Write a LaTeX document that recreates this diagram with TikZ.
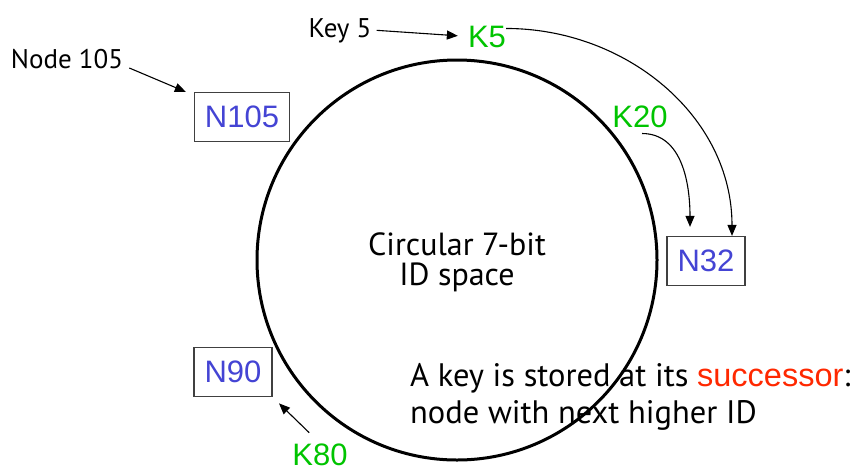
\documentclass[tikz,border=0pt]{standalone}
\usepackage{fontspec}
\setmainfont{PT Sans}
\newfontfamily\arialfont{Liberation Sans}
\usepackage{tikz}
\usetikzlibrary{arrows.meta, positioning}
\definecolor{nodeblue}{RGB}{68,68,212}
\definecolor{keygreen}{RGB}{0,196,0}
\definecolor{succred}{RGB}{255,40,0}
\tikzset{
  idbox/.style={draw=black!75, line width=1.2pt, fill=white,
                inner xsep=10.5pt, inner ysep=0pt, minimum height=49pt,
                font=\arialfont\fontsize{31}{31}\selectfont, text=nodeblue},
  keylbl/.style={inner sep=0pt, font=\arialfont\fontsize{31}{31}\selectfont,
                 text=keygreen},
  note/.style={inner sep=0pt, font=\fontsize{27}{27}\selectfont},
  ptr/.style={-{Triangle[length=11pt,width=9pt]}, line width=1.1pt},
}
\begin{document}
\begin{tikzpicture}[x=1pt, y=-1pt]
    \useasboundingbox[fill=white] (0,0) rectangle (856,472);
    % the identifier ring
    \node[circle, draw, line width=3pt, minimum size=400pt, inner sep=0pt]
          (ring) at (457,260) {};
    \node[inner sep=0pt, align=center, anchor=base,
          font=\fontsize{32}{30}\selectfont] (space) at (457,285)
          {Circular 7-bit\\ID space};
    % nodes on the ring
    \node[idbox] (n105) at (242,117) {N105};
    \node[idbox] (n32) at (706,261) {N32};
    \node[idbox] (n90) at (233,372) {N90};
    % keys
    \node[keylbl, anchor=base] (k5) at (487,47) {K5};
    \node[keylbl, anchor=base] (k20) at (640,127) {K20};
    \node[keylbl, anchor=base] (k80) at (320,465) {K80};
    % captions
    \node[note, anchor=base] (node105) at (67,68) {Node 105};
    \node[note, anchor=base] (key5) at (340,37) {Key 5};
    \node[inner sep=0pt, anchor=base west, align=left,
          font=\fontsize{32.5}{37}\selectfont] (rule) at (410,423)
          {A key is stored at its {\arialfont\color{succred}successor}:\\
           node with next higher ID};
    % pointers
    \draw[ptr] ([xshift=6pt]node105.base east) -- ([xshift=-8pt]n105.north west);
    \draw[ptr, shorten >=10pt] ([xshift=5pt]key5.east) -- (k5.west);
    \draw[ptr, shorten <=15pt, shorten >=9pt] (k80.north) -- (n90.south east);
    \draw[ptr] ([yshift=-3pt]k5.north east)
        to[out=0, in=90] ([xshift=26pt]n32.north);
    \draw[ptr] ([xshift=2pt, yshift=-6pt]k20.south)
        to[out=0, in=90] ([xshift=-16pt, yshift=9pt]n32.north);
\end{tikzpicture}
\end{document}
